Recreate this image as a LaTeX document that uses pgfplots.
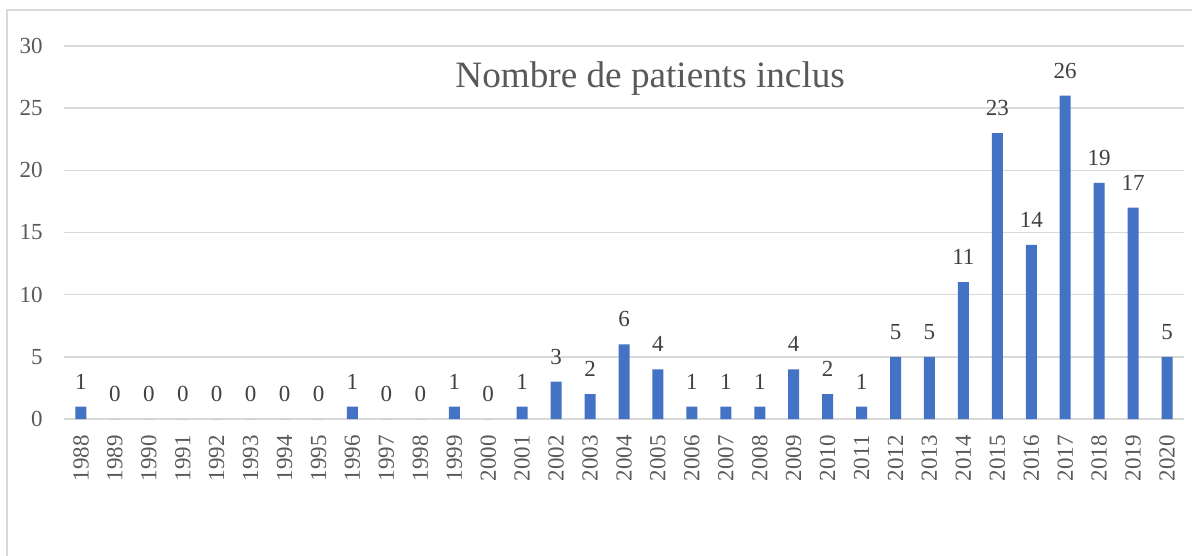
\documentclass[border=0pt]{standalone}
\usepackage{pgfplots}
\pgfplotsset{compat=1.18}
\usepackage{fontspec}
\setmainfont{Liberation Serif}
\definecolor{barblue}{HTML}{4472C4}
\definecolor{gridgray}{HTML}{D9D9D9}
\definecolor{txtgray}{HTML}{595959}
\definecolor{lblgray}{HTML}{404040}
\begin{document}
\begin{tikzpicture}
\useasboundingbox (0,0) rectangle (596bp,278bp);
\draw[gridgray, line width=1bp] (3.5bp,0) -- (3.5bp,273bp) -- (596bp,273bp);
\begin{axis}[
  at={(32bp,68.5bp)}, anchor=south west,
  scale only axis, width=560bp, height=186.5bp,
  xmin=1987.5, xmax=2020.5, ymin=0, ymax=30,
  ytick={0,5,...,30},
  xtick=data,
  ymajorgrids, grid style={gridgray, line width=0.75bp},
  axis line style={draw=none},
  major tick length=0pt,
  /pgf/number format/assume math mode=true,
  /pgf/number format/1000 sep={},
  ticklabel style={font=\fontsize{11.5bp}{13bp}\selectfont, text=txtgray},
  yticklabel style={anchor=east, inner sep=0pt, xshift=-10.5bp},
  xticklabel style={rotate=90, anchor=east, inner sep=0pt, xshift=-8bp},
  ybar, bar width=5.5bp,
  nodes near coords,
  nodes near coords style={font=\fontsize{11.5bp}{13bp}\selectfont, text=lblgray, inner sep=0pt, anchor=south, yshift=8.5bp},
  clip=false,
]
\addplot[fill=barblue, draw=none] coordinates {
(1988,1) (1989,0) (1990,0) (1991,0) (1992,0) (1993,0) (1994,0) (1995,0)
(1996,1) (1997,0) (1998,0) (1999,1) (2000,0) (2001,1) (2002,3) (2003,2)
(2004,6) (2005,4) (2006,1) (2007,1) (2008,1) (2009,4) (2010,2) (2011,1)
(2012,5) (2013,5) (2014,11) (2015,23) (2016,14) (2017,26) (2018,19) (2019,17) (2020,5)
};
\node[font=\fontsize{18.6bp}{21bp}\selectfont, text=txtgray] at (axis cs:2004.77,27.4) {Nombre de patients inclus};
\end{axis}
\end{tikzpicture}
\end{document}
